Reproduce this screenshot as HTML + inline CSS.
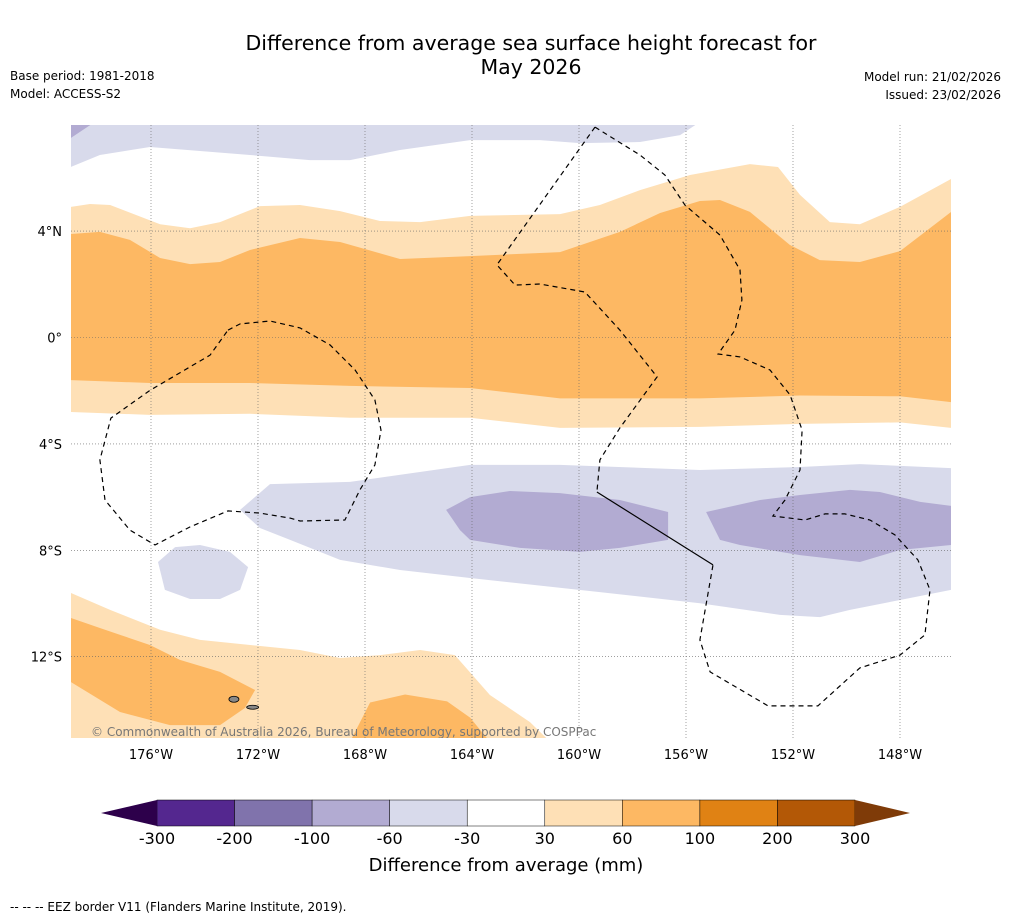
<!DOCTYPE html>
<html><head><meta charset="utf-8"><style>
body{margin:0;background:#fff;width:1011px;height:919px;overflow:hidden;font-family:"DejaVu Sans","Liberation Sans",sans-serif}
svg{position:absolute;left:0;top:0;font-family:"DejaVu Sans","Liberation Sans",sans-serif}
</style></head><body>
<svg id="s" width="1011" height="919" xmlns="http://www.w3.org/2000/svg">
<text x="531" y="50" font-size="20.5" text-anchor="middle">Difference from average sea surface height forecast for</text>
<text x="531" y="74" font-size="20.5" text-anchor="middle">May 2026</text>
<text x="10" y="80" font-size="12">Base period: 1981-2018</text>
<text x="10" y="98" font-size="12">Model: ACCESS-S2</text>
<text x="1001" y="81" font-size="12" text-anchor="end">Model run: 21/02/2026</text>
<text x="1001" y="99" font-size="12" text-anchor="end">Issued: 23/02/2026</text>
<text x="10" y="911" font-size="12">--  --  -- EEZ border V11 (Flanders Marine Institute, 2019).</text>
</svg>
<script>
const NS="http://www.w3.org/2000/svg";
const svg=document.getElementById('s');
const lonTicks=[176,172,168,164,160,156,152,148];
const latTicks=[4,0,-4,-8,-12];
const latLabels=["4°N","0°","4°S","8°S","12°S"];
const binEdges=[-300,-200,-100,-60,-30,30,60,100,200,300];
const binColors=["#54278f","#8073ac","#b2abd2","#d8daeb","#ffffff","#fee0b6","#fdb863","#e08214","#b35806"];
const lightOrangeNorth=[[179,4.91],[178.28,5.02],[177.53,4.98],[175.66,4.26],[174.54,4.11],[173.42,4.34],[171.92,4.94],[170.43,4.98],[168.93,4.75],[167.44,4.38],[165.94,4.34],[164.07,4.57],[160.71,4.64],[159.22,4.98],[157.72,5.54],[155.85,6.11],[153.61,6.52],[152.56,6.41],[151.74,5.36],[150.62,4.34],[149.5,4.26],[148,4.91],[146.09,5.96],[146.09,-3.4],[148,-3.19],[151.74,-3.25],[155.48,-3.36],[160.71,-3.4],[164.07,-3.02],[168.56,-3.02],[172.3,-2.87],[176.04,-2.91],[179,-2.8]];
const darkOrangeNorth=[[179,3.89],[177.91,3.97],[176.79,3.67],[175.66,2.99],[174.54,2.76],[173.42,2.84],[172.3,3.29],[170.43,3.74],[168.93,3.59],[166.69,2.95],[164.07,3.06],[160.71,3.21],[158.47,3.97],[156.97,4.68],[155.48,5.13],[154.73,5.17],[153.61,4.72],[152.12,3.48],[151,2.91],[149.5,2.84],[148,3.25],[146.09,4.72],[146.09,-2.43],[148,-2.21],[151.74,-2.18],[155.48,-2.29],[160.71,-2.29],[164.07,-1.9],[168.56,-1.82],[172.3,-1.71],[176.04,-1.71],[179,-1.6]];
const purpleTop=[[179,8.1],[155.48,8.1],[156.22,7.61],[157.72,7.35],[159.96,7.31],[161.46,7.42],[164.07,7.42],[166.69,7.05],[168.56,6.67],[170.06,6.67],[172.3,6.86],[176.04,7.16],[177.91,6.86],[179,6.41]];
const purpleCorner=[[179,8.1],[178.1,8.1],[179,7.5]];
const purpleMid=[[172.67,-6.48],[171.55,-5.51],[168.56,-5.43],[164.07,-4.79],[160.71,-4.79],[155.48,-4.98],[151.74,-4.87],[149.5,-4.76],[146.09,-4.91],[146.09,-9.49],[148,-9.87],[149.87,-10.24],[150.99,-10.51],[152.49,-10.43],[155.48,-9.99],[159.22,-9.57],[164.07,-9.04],[166.69,-8.74],[168.93,-8.36],[170.8,-7.61],[171.93,-7.16]];
const purpleBlob1=[[164.97,-6.48],[164.07,-6],[162.58,-5.77],[160.71,-5.85],[158.47,-6.11],[156.67,-6.56],[156.67,-7.61],[158.47,-7.91],[159.96,-8.06],[162.21,-7.91],[164.07,-7.61],[164.45,-7.24]];
const purpleBlob2=[[155.25,-6.56],[153.23,-6.11],[151.74,-5.92],[149.87,-5.73],[148.75,-5.81],[147.25,-6.18],[146.09,-6.33],[146.09,-7.8],[148,-7.99],[149.5,-8.44],[151.74,-8.18],[153.98,-7.8],[154.73,-7.61]];
const purpleSmall=[[175.74,-8.44],[175.1,-7.88],[174.17,-7.8],[173.05,-8.06],[172.37,-8.63],[172.67,-9.49],[173.42,-9.83],[174.54,-9.83],[175.48,-9.49]];
const lightOrangeSouth=[[179,-9.6],[177.53,-10.24],[175.66,-10.99],[174.17,-11.37],[170.43,-11.75],[168.93,-12.05],[167.44,-11.94],[165.94,-11.75],[164.64,-11.94],[163.33,-13.44],[161.83,-14.46],[161.08,-15.2],[179,-15.2]];
const darkOrangeSW=[[179,-10.54],[177.91,-10.92],[176.04,-11.56],[174.92,-12.12],[173.42,-12.57],[172.11,-13.25],[172.49,-13.93],[173.42,-14.57],[175.29,-14.57],[177.16,-14.08],[179,-12.95]];
const darkOrangeS=[[168.56,-15.2],[167.81,-13.72],[166.5,-13.42],[164.93,-13.68],[164.07,-14.29],[163.33,-15.2]];
const eezWest=[[173.12,0.28],[172.67,0.51],[171.55,0.62],[170.43,0.36],[169.31,-0.28],[168.37,-1.22],[167.63,-2.35],[167.4,-3.48],[167.63,-4.79],[168.19,-5.73],[168.75,-6.86],[170.43,-6.9],[170.8,-6.79],[171.93,-6.6],[173.12,-6.52],[174.54,-7.12],[175.85,-7.8],[176.79,-7.24],[177.72,-6.11],[177.91,-4.6],[177.5,-3.03],[176.04,-1.99],[173.79,-0.66],[173.12,0.28]];
const eezMidWest=[[159.4,7.91],[163.07,2.73],[162.39,1.97],[161.46,2.01],[159.78,1.71],[158.47,0.28],[157.08,-1.48],[158.47,-3.4],[159.22,-4.6],[159.33,-5.81]];
const eezSolid=[[159.33,-5.81],[154.99,-8.55]];
const eezEast=[[159.4,7.91],[157.72,6.86],[156.79,6.11],[156.04,4.98],[154.73,3.85],[153.98,2.54],[153.91,1.41],[154.17,0.28],[154.8,-0.62],[153.98,-0.73],[152.86,-1.22],[152.11,-2.16],[151.66,-3.48],[151.74,-4.98],[152.3,-6.11],[152.75,-6.71],[151.55,-6.86],[150.8,-6.63],[150.06,-6.63],[149.12,-6.86],[148.19,-7.42],[147.33,-8.36],[146.88,-9.49],[147.07,-11.18],[148,-11.94],[149.5,-12.42],[151.07,-13.85],[152.93,-13.85],[155.1,-12.57],[155.48,-11.37],[154.99,-8.55]];

const X=w=>151+(176-w)*26.75;
const Y=lat=>337.5-lat*26.6;
function el(t,a,p){const e=document.createElementNS(NS,t);for(const k in a)e.setAttribute(k,a[k]);(p||svg).appendChild(e);return e;}
const cp=el('clipPath',{id:'mc'});el('rect',{x:71,y:125,width:880,height:613},cp);
const g=el('g',{'clip-path':'url(#mc)'});


const pts=a=>a.map(p=>X(p[0]).toFixed(1)+','+Y(p[1]).toFixed(1)).join(' ');
function poly(a,fill,name){const e=el('polygon',{points:pts(a),fill:fill},g);

}
poly(purpleTop,binColors[3],'contour-neg30-top');
poly(purpleCorner,binColors[2],'contour-neg60-corner');
poly(lightOrangeNorth,binColors[5],'contour-30-north');
poly(darkOrangeNorth,binColors[6],'contour-60-north');
poly(purpleMid,binColors[3],'contour-neg30-mid');
poly(purpleBlob1,binColors[2],'contour-neg60-west');
poly(purpleBlob2,binColors[2],'contour-neg60-east');
poly(purpleSmall,binColors[3],'contour-neg30-small');
poly(lightOrangeSouth,binColors[5],'contour-30-south');
poly(darkOrangeSW,binColors[6],'contour-60-southwest');
poly(darkOrangeS,binColors[6],'contour-60-south');
lonTicks.forEach(w=>{const l=el('line',{x1:X(w),x2:X(w),y1:125,y2:738,stroke:'#666','stroke-width':0.6,'stroke-dasharray':'1,2'},g);


const t=el('text',{x:X(w),y:759,'font-size':13,'text-anchor':'middle'});t.textContent=w+'°W';

});
latTicks.forEach((v,i)=>{const l=el('line',{x1:71,x2:951,y1:Y(v),y2:Y(v),stroke:'#666','stroke-width':0.6,'stroke-dasharray':'1,2'},g);


const t=el('text',{x:62,y:Y(v)+5,'font-size':13,'text-anchor':'end'});t.textContent=latLabels[i];

});
function line(a,dash,name){const e=el('polyline',{points:pts(a),fill:'none',stroke:'#000','stroke-width':1.2,'stroke-dasharray':dash},g);

}
line(eezWest,'5,4','eez-border-west');
line(eezMidWest,'5,4','eez-border-central');
line(eezEast,'5,4','eez-border-east');
line(eezSolid,'','eez-border-solid');
const islands=[[172.9,-13.6,5,3],[172.2,-13.9,6,2]];
islands.forEach(p=>{const e=el('ellipse',{cx:X(p[0]),cy:Y(p[1]),rx:p[2],ry:p[3],fill:'#888',stroke:'#000','stroke-width':0.8},g);

});
const cr=el('text',{x:91,y:736,'font-size':12,fill:'#777'},g);cr.textContent='© Commonwealth of Australia 2026, Bureau of Meteorology, supported by COSPPac';


const cb=el('g',{});


const cbX0=157,cbW=698,cbY=800,cbH=26,seg=cbW/binColors.length;
binColors.forEach((c,i)=>{const r=el('rect',{x:cbX0+i*seg,y:cbY,width:seg,height:cbH,fill:c,stroke:'#000','stroke-width':0.5},cb);

});
const lt=el('polygon',{points:`${cbX0},${cbY} 101,${cbY+13} ${cbX0},${cbY+cbH}`,fill:'#2d004b'},cb);


const rt=el('polygon',{points:`${cbX0+cbW},${cbY} 910,${cbY+13} ${cbX0+cbW},${cbY+cbH}`,fill:'#7f3b08'},cb);


binEdges.forEach((v,i)=>{const t=el('text',{x:cbX0+i*seg,y:844,'font-size':16,'text-anchor':'middle'},cb);t.textContent=v;

});
const ct=el('text',{x:506,y:871,'font-size':18,'text-anchor':'middle'});ct.textContent='Difference from average (mm)';


</script>
</body></html>
